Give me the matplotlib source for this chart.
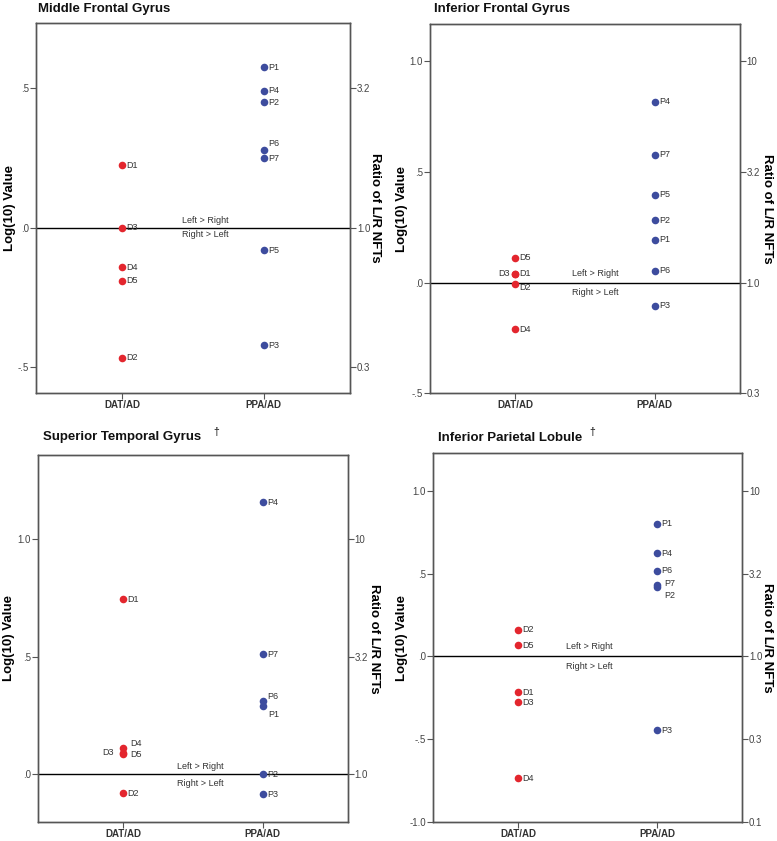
import matplotlib
matplotlib.use('Agg')
import matplotlib.pyplot as plt

plt.rcParams['font.family'] = ['Liberation Sans', 'DejaVu Sans']

# x categories
groups = ['DAT/AD', 'PPA/AD']

# Middle Frontal Gyrus
mfg_dat_names = ['D1', 'D2', 'D3', 'D4', 'D5']
mfg_dat_vals = [0.225, -0.466, 0.0, -0.142, -0.190]
mfg_ppa_names = ['P1', 'P2', 'P3', 'P4', 'P5', 'P6', 'P7']
mfg_ppa_vals = [0.576, 0.451, -0.422, 0.492, -0.080, 0.280, 0.250]

# Inferior Frontal Gyrus
ifg_dat_names = ['D1', 'D2', 'D3', 'D4', 'D5']
ifg_dat_vals = [0.041, -0.006, 0.041, -0.210, 0.113]
ifg_ppa_names = ['P1', 'P2', 'P3', 'P4', 'P5', 'P6', 'P7']
ifg_ppa_vals = [0.193, 0.283, -0.104, 0.817, 0.398, 0.054, 0.579]

# Superior Temporal Gyrus
stg_dat_names = ['D1', 'D2', 'D3', 'D4', 'D5']
stg_dat_vals = [0.745, -0.081, 0.092, 0.113, 0.085]
stg_ppa_names = ['P1', 'P2', 'P3', 'P4', 'P6', 'P7']
stg_ppa_vals = [0.291, 0.001, -0.085, 1.157, 0.313, 0.511]

# Inferior Parietal Lobule
ipl_dat_names = ['D1', 'D2', 'D3', 'D4', 'D5']
ipl_dat_vals = [-0.217, 0.161, -0.277, -0.733, 0.069]
ipl_ppa_names = ['P1', 'P2', 'P3', 'P4', 'P6', 'P7']
ipl_ppa_vals = [0.801, 0.418, -0.446, 0.623, 0.518, 0.428]

# axis ticks (left = log10, right = ratio)
mfg_yticks = [-0.5, 0.0, 0.5]
mfg_rlabels = ['0.3', '1.0', '3.2']
ifg_yticks = [-0.5, 0.0, 0.5, 1.0]
ifg_rlabels = ['0.3', '1.0', '3.2', '10']
stg_yticks = [0.0, 0.5, 1.0]
stg_rlabels = ['1.0', '3.2', '10']
ipl_yticks = [-1.0, -0.5, 0.0, 0.5, 1.0]
ipl_rlabels = ['0.1', '0.3', '1.0', '3.2', '10']

RED = '#e3262e'
BLUE = '#3d4c9e'
TXT = '#333333'


def fmt(v):
    # SPSS style: .5, .0, -.5
    s = '%.1f' % v
    if s.startswith('0.'):
        s = s[1:]
    elif s.startswith('-0.'):
        s = '-' + s[2:]
    return s


fig = plt.figure(figsize=(7.77, 8.41), dpi=100)


def panel(rect, title, dagger, title_xy, dat_names, dat_vals, ppa_names, ppa_vals,
          yticks, rlabels, ylim, text_x, text_dy, offsets, ylab_x, rlab_x):
    ax = fig.add_axes(rect)
    ax.scatter([1] * len(dat_vals), dat_vals, s=30, color=RED, zorder=3, linewidths=0)
    ax.scatter([2] * len(ppa_vals), ppa_vals, s=30, color=BLUE, zorder=3, linewidths=0)
    for x, names, vals in [(1, dat_names, dat_vals), (2, ppa_names, ppa_vals)]:
        for n, v in zip(names, vals):
            dx, dy, ha = offsets.get(n, (3.2, 0, 'left'))
            ax.annotate(n, (x, v), xytext=(dx, dy), textcoords='offset points',
                        ha=ha, va='center', fontsize=6.5, color=TXT, zorder=4)
    ax.axhline(0, color='black', lw=1.0, zorder=2)
    ax.annotate('Left > Right', (text_x, 0), xytext=(0, text_dy[0]), textcoords='offset points',
                ha='center', va='center', fontsize=6.5, color=TXT)
    ax.annotate('Right > Left', (text_x, 0), xytext=(0, text_dy[1]), textcoords='offset points',
                ha='center', va='center', fontsize=6.5, color=TXT)
    ax.set_xlim(0.39, 2.61)
    ax.set_ylim(*ylim)
    ax.set_xticks([1, 2])
    ax.set_xticklabels(groups, fontsize=7, fontweight='bold', color=TXT)
    ax.set_yticks(yticks)
    ax.set_yticklabels([fmt(v) for v in yticks], fontsize=7, color='#444444')
    ax.tick_params(length=4, width=0.8, color='#555555', pad=1)
    ax.set_ylabel('Log(10) Value', fontsize=9.5, fontweight='bold')
    ax.yaxis.set_label_coords(ylab_x, 0.5)
    for sp in ax.spines.values():
        sp.set_color('#555555')
        sp.set_linewidth(1.0)
    ax2 = ax.twinx()
    ax2.set_ylim(*ylim)
    ax2.set_yticks(yticks)
    ax2.set_yticklabels(rlabels, fontsize=7, color='#444444')
    ax2.tick_params(length=4, width=0.8, color='#555555', pad=1)
    ax2.set_ylabel('Ratio of L/R NFTs', fontsize=9.5, fontweight='bold', rotation=270)
    ax2.yaxis.set_label_coords(rlab_x, 0.5)
    for sp in ax2.spines.values():
        sp.set_color('#555555')
        sp.set_linewidth(1.0)
    fig.text(title_xy[0] / 777, 1 - title_xy[1] / 841, title, fontsize=9.5,
             fontweight='bold', ha='left', va='center', color='#111111')
    if dagger is not None:
        fig.text(dagger[0] / 777, 1 - dagger[1] / 841, '\u2020', fontsize=7.5,
                 ha='left', va='center', color='#111111')
    return ax


panel([36 / 777, 1 - 393 / 841, 314 / 777, 370 / 841], 'Middle Frontal Gyrus', None, (38, 9),
      mfg_dat_names, mfg_dat_vals, mfg_ppa_names, mfg_ppa_vals,
      mfg_yticks, mfg_rlabels, (-0.593, 0.735), 1.59, (5.5, -4.5),
      {'P6': (3.2, 4.3, 'left')}, -0.064, 1.100)

panel([429.7 / 777, 1 - 393.3 / 841, 310 / 777, 369.3 / 841], 'Inferior Frontal Gyrus', None, (434, 9),
      ifg_dat_names, ifg_dat_vals, ifg_ppa_names, ifg_ppa_vals,
      ifg_yticks, ifg_rlabels, (-0.5, 1.169), 1.575, (6.5, -6.8),
      {'D3': (-3.5, 0, 'right'), 'D2': (3.5, -2.7, 'left')}, -0.069, 1.108)

panel([37.7 / 777, 1 - 821.7 / 841, 310 / 777, 366.7 / 841], 'Superior Temporal Gyrus', (213, 432), (43, 437),
      stg_dat_names, stg_dat_vals, stg_ppa_names, stg_ppa_vals,
      stg_yticks, stg_rlabels, (-0.202, 1.359), 1.553, (5.5, -6.5),
      {'P6': (3.5, 3.0, 'left'), 'P1': (4.3, -6.0, 'left'), 'D4': (5.3, 3.0, 'left'),
       'D5': (5.3, 0, 'left'), 'D3': (-6.7, 0, 'right')}, -0.072, 1.105)

panel([433 / 777, 1 - 822.3 / 841, 309 / 777, 369 / 841], 'Inferior Parietal Lobule', (589, 432), (438, 438),
      ipl_dat_names, ipl_dat_vals, ipl_ppa_names, ipl_ppa_vals,
      ipl_yticks, ipl_rlabels, (-1.0, 1.225), 1.516, (7.2, -7.2),
      {'P7': (5.5, 1.5, 'left'), 'P2': (5.5, -6.2, 'left')}, -0.082, 1.101)

fig.savefig('out.png', dpi=100)
